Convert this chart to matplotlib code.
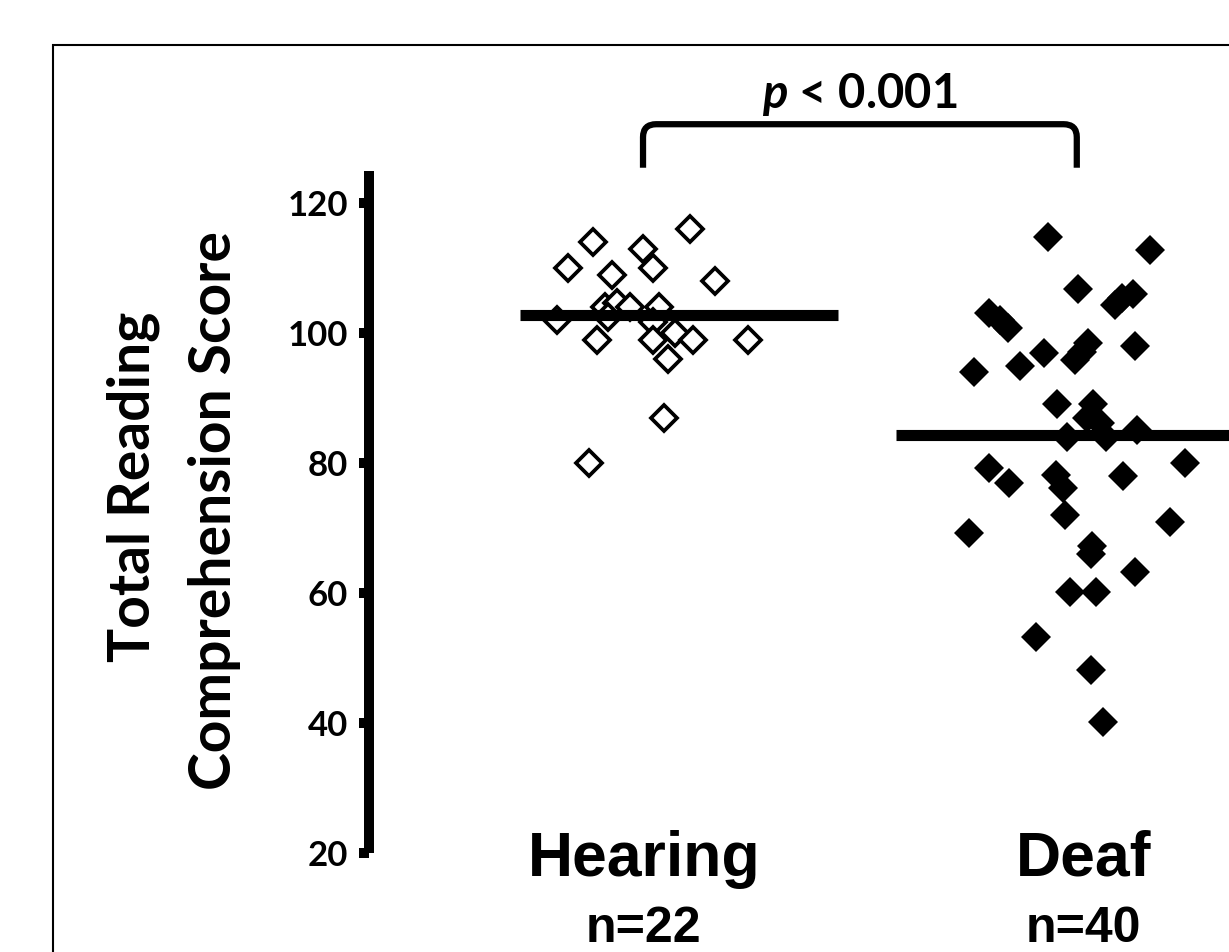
import numpy as np
import matplotlib
matplotlib.use('Agg')
import matplotlib.pyplot as plt
from matplotlib.patches import Rectangle, PathPatch
from matplotlib.path import Path
from matplotlib.transforms import blended_transform_factory

plt.rcParams['mathtext.fontset'] = 'custom'
plt.rcParams['mathtext.it'] = 'Lato:italic:bold'
plt.rcParams['mathtext.rm'] = 'Lato:bold'

# data
groups = ['Hearing', 'Deaf']
group_n = ['n=22', 'n=40']

hearing_scores = [116, 114, 113, 110, 109, 110, 108, 104, 104.6, 104.1, 104.1,
                  102, 102.5, 101.7, 99, 99, 100, 99, 99, 96, 87, 80]
hearing_jitter = [0.114, -0.107, 0.007, -0.164, -0.064, 0.030, 0.170, -0.080, -0.052,
                  -0.023, 0.043, -0.189, -0.073, 0.030, -0.098, 0.030, 0.080, 0.120,
                  0.245, 0.064, 0.055, -0.116]

deaf_scores = [114.9, 112.9, 106.9, 106.0, 104.3, 103.1, 102.0, 100.9, 98.0, 96.9,
               98.5, 95.9, 94.9, 94.0, 89.1, 89.2, 87.0, 86.2, 84.1, 84.1,
               85.1, 79.2, 77.0, 78.2, 76.2, 78.1, 80.1, 72.1, 71.0, 69.2,
               67.2, 66.0, 63.2, 60.2, 60.2, 53.3, 48.2, 40.2, 97.2, 105.4]
deaf_jitter = [-0.073, 0.159, -0.005, 0.120, 0.080, -0.207, -0.182, -0.164, 0.125, -0.082,
               0.018, -0.011, -0.136, -0.241, -0.052, 0.030, 0.016, 0.045, -0.030, 0.059,
               0.130, -0.207, -0.161, -0.055, -0.039, 0.098, 0.239, -0.034, 0.205, -0.252,
               0.027, 0.025, 0.125, -0.023, 0.036, -0.100, 0.025, 0.052, 0.005, 0.095]

yticks = [20, 40, 60, 80, 100, 120]
p_text = r'$p$ < 0.001'

fig = plt.figure(figsize=(12.29, 9.52), dpi=100)
ax = fig.add_axes([0.3002, 0.1040, 0.6998, 0.7164])

x_h = 1 + np.array(hearing_jitter)
x_d = 2 + np.array(deaf_jitter)
ax.plot(x_h, hearing_scores, 'D', ms=13, mfc='white', mec='black', mew=2.7, zorder=3)
ax.plot(x_d, deaf_scores, 'D', ms=14.8, mfc='black', mec='black', mew=0, zorder=3)

# group means
ax.hlines(np.mean(hearing_scores), 0.727, 1.45, color='black', lw=8, zorder=4)
ax.hlines(np.mean(deaf_scores), 1.582, 2.5, color='black', lw=8, zorder=4)

ax.set_xlim(0.384, 2.339)
ax.set_ylim(20, 125)
ax.set_yticks(yticks)
ax.set_yticklabels([str(t) for t in yticks], fontfamily='Lato', fontweight='bold', fontsize=25)
ax.set_xticks([])
for s in ['top', 'right', 'bottom']:
    ax.spines[s].set_visible(False)
ax.spines['left'].set_linewidth(7.2)
ax.spines['left'].set_capstyle('butt')
ax.tick_params(axis='y', width=7.2, length=7.2, pad=8)

# y label, two lines
fig.text(133 / 1229, 1 - 487 / 952, 'Total Reading', rotation=90, ha='center', va='center',
         fontfamily='Lato', fontweight='bold', fontsize=41)
fig.text(215 / 1229, 1 - 511 / 952, 'Comprehension Score', rotation=90, ha='center', va='center',
         fontfamily='Lato', fontweight='bold', fontsize=41)

# group labels
tr = blended_transform_factory(ax.transData, fig.transFigure)
for i, (g, n) in enumerate(zip(groups, group_n)):
    ax.text(i + 1 + 0.009, 1 - 876 / 952, g, transform=tr, ha='center', va='baseline',
            fontfamily='Liberation Sans', fontweight='bold', fontsize=45, clip_on=False)
    ax.text(i + 1 + 0.007, 1 - 942 / 952, n, transform=tr, ha='center', va='baseline',
            fontfamily='Liberation Sans', fontweight='bold', fontsize=36, clip_on=False)

# significance bracket with rounded corners
xl, xr, yb, yt = 1.007, 1.993, 125.5, 132.2
rx, ry = 0.03, 2.0
verts = [(xl, yb), (xl, yt - ry), (xl, yt), (xl + rx, yt), (xr - rx, yt),
         (xr, yt), (xr, yt - ry), (xr, yb)]
codes = [Path.MOVETO, Path.LINETO, Path.CURVE3, Path.CURVE3, Path.LINETO,
         Path.CURVE3, Path.CURVE3, Path.LINETO]
ax.add_patch(PathPatch(Path(verts, codes), fill=False, ec='black', lw=4.5,
                       capstyle='butt', clip_on=False))
ax.text(1.5, 1 - 108 / 952, p_text, transform=tr, ha='center', va='baseline',
        fontfamily='Lato', fontweight='bold', fontsize=34)

# outer frame
fig.patches.append(Rectangle((53 / 1229, -0.5), 2, 1.4527, transform=fig.transFigure,
                             fill=False, ec='black', lw=1.5))

fig.savefig('out.png', dpi=100)
